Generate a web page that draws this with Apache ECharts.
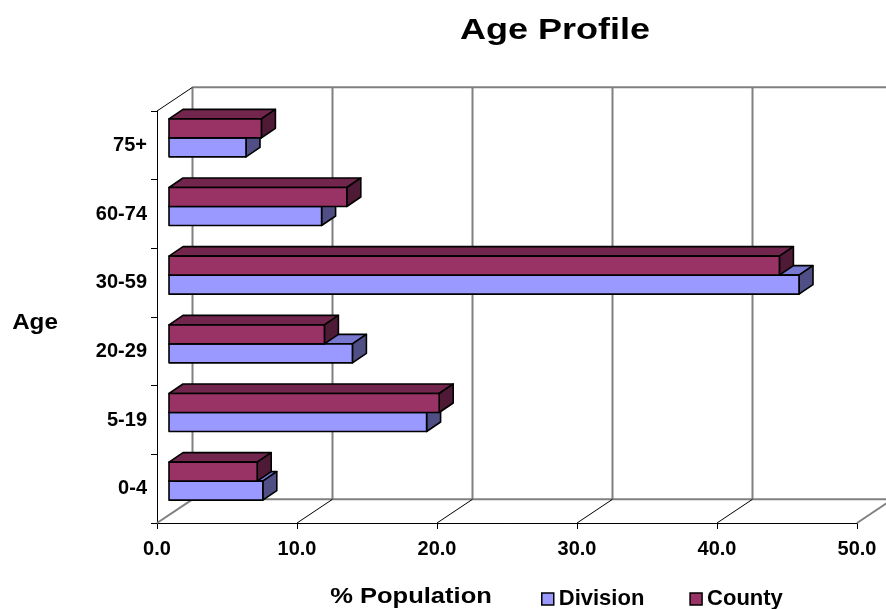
<!DOCTYPE html>
<html>
<head>
<meta charset="utf-8">
<script src="https://cdn.jsdelivr.net/npm/echarts@6/dist/echarts.min.js"></script>
<style>
  html, body { margin: 0; padding: 0; background: #fff; }
  #main { width: 886px; height: 609px; }
</style>
</head>
<body>
<div id="main"></div>
<script>
// data (bottom to top)
const ageGroups = ['0-4', '5-19', '20-29', '30-59', '60-74', '75+'];
const division = [6.7, 18.4, 13.1, 45.0, 10.9, 5.5];
const county = [6.3, 19.3, 11.1, 43.6, 12.7, 6.6];
const xTicks = [0, 10, 20, 30, 40, 50];

const font = "'Liberation Sans', Arial, sans-serif";

// 3d look: offsets of the bar face / top face / back wall
const FACE = [12, -8];
const DEPTH = [14, -9.5];
const WALL = [35.5, -23.7];

const colors = {
  Division: { front: '#9999FF', top: '#7878D0', side: '#4F4F85' },
  County: { front: '#993366', top: '#73264D', side: '#4F1A36' }
};

function barItem(name) {
  return function (params, api) {
    const v = api.value(0);
    const cat = api.value(1);
    const p0 = api.coord([0, cat]);
    const p1 = api.coord([v, cat]);
    const c = p0[1];
    let yt, yb;
    if (name === 'Division') { yt = c - 7.5; yb = c + 11.5; }
    else { yt = c - 26.5; yb = c - 7.5; }
    const x0 = p0[0] + FACE[0], x1 = p1[0] + FACE[0];
    const dx = DEPTH[0], dy = DEPTH[1];
    const col = colors[name];
    const line = { stroke: '#000', lineWidth: 1.6, lineJoin: 'round' };
    return {
      type: 'group',
      children: [
        { type: 'polygon', shape: { points: [[x0, yt], [x1, yt], [x1 + dx, yt + dy], [x0 + dx, yt + dy]] },
          style: Object.assign({ fill: col.top }, line) },
        { type: 'polygon', shape: { points: [[x1, yt], [x1 + dx, yt + dy], [x1 + dx, yb + dy], [x1, yb]] },
          style: Object.assign({ fill: col.side }, line) },
        { type: 'rect', shape: { x: x0, y: yt, width: x1 - x0, height: yb - yt },
          style: Object.assign({ fill: col.front }, line) }
      ]
    };
  };
}

function wallItem(params, api) {
  const v = api.value(0);
  const cs = params.coordSys;
  const top = cs.y, bottom = cs.y + cs.height;
  const x = api.coord([v, 0])[0];
  const grey = { stroke: '#808080', lineWidth: 2 };
  const children = [
    { type: 'line', shape: { x1: x + WALL[0], y1: top + WALL[1], x2: x + WALL[0], y2: bottom + WALL[1] }, style: grey },
    { type: 'line', shape: { x1: x, y1: bottom, x2: x + WALL[0], y2: bottom + WALL[1] },
      style: (v === 0 || v === 50) ? grey : { stroke: '#000', lineWidth: 1 } }
  ];
  if (v === 0) {
    const xEnd = cs.x + cs.width;
    children.push(
      { type: 'line', shape: { x1: x + WALL[0], y1: top + WALL[1], x2: xEnd + WALL[0], y2: top + WALL[1] }, style: grey },
      { type: 'line', shape: { x1: x + WALL[0], y1: bottom + WALL[1], x2: xEnd + WALL[0], y2: bottom + WALL[1] }, style: grey },
      { type: 'line', shape: { x1: x, y1: top, x2: x + WALL[0], y2: top + WALL[1] }, style: { stroke: '#000', lineWidth: 1 } }
    );
  }
  return { type: 'group', children: children };
}

const chart = echarts.init(document.getElementById('main'), null, { renderer: 'canvas' });

const option = {
  backgroundColor: '#fff',
  animation: false,
  graphic: [
    { type: 'text', x: 555, y: 31, scaleX: 1.2,
      style: { text: 'Age Profile', font: 'bold 30px ' + font, fill: '#000', textAlign: 'center', textVerticalAlign: 'middle' } },
    { type: 'text', x: 411, y: 597, scaleX: 1.16,
      style: { text: '% Population', font: 'bold 22px ' + font, fill: '#000', textAlign: 'center', textVerticalAlign: 'middle' } },
    { type: 'text', x: 35, y: 323, scaleX: 1.1,
      style: { text: 'Age', font: 'bold 22px ' + font, fill: '#000', textAlign: 'center', textVerticalAlign: 'middle' } }
  ],
  legend: {
    data: ['Division', 'County'],
    left: 536,
    top: 583,
    itemWidth: 12,
    itemHeight: 12,
    itemGap: 45,
    icon: 'rect',
    itemStyle: { borderColor: '#000', borderWidth: 1.5 },
    textStyle: { fontFamily: font, fontWeight: 'bold', fontSize: 22, color: '#000' }
  },
  grid: { left: 157, right: 29, top: 111, bottom: 86 },
  xAxis: {
    type: 'value',
    min: 0,
    max: 50,
    interval: 10,
    axisLine: { show: true, lineStyle: { color: '#000', width: 1 } },
    axisTick: { show: true, length: 6, lineStyle: { color: '#000' } },
    splitLine: { show: false },
    axisLabel: {
      margin: 16,
      formatter: v => v.toFixed(1),
      fontFamily: font, fontWeight: 'bold', fontSize: 20, color: '#000'
    }
  },
  yAxis: {
    type: 'category',
    data: ageGroups,
    axisLine: { show: true, lineStyle: { color: '#000', width: 1 } },
    axisTick: { show: true, length: 6, lineStyle: { color: '#000' } },
    splitLine: { show: false },
    axisLabel: { margin: 10, fontFamily: font, fontWeight: 'bold', fontSize: 20, color: '#000' }
  },
  series: [
    {
      name: 'walls',
      type: 'custom',
      renderItem: wallItem,
      data: xTicks.map(v => [v, 0]),
      encode: { x: 0, y: 1 },
      z: 1,
      silent: true
    },
    {
      name: 'Division',
      type: 'custom',
      renderItem: barItem('Division'),
      itemStyle: { color: colors.Division.front },
      data: division.map((v, i) => [v, i]),
      encode: { x: 0, y: 1 },
      z: 2
    },
    {
      name: 'County',
      type: 'custom',
      renderItem: barItem('County'),
      itemStyle: { color: colors.County.front },
      data: county.map((v, i) => [v, i]),
      encode: { x: 0, y: 1 },
      z: 3
    }
  ]
};

chart.setOption(option);
</script>
</body>
</html>
